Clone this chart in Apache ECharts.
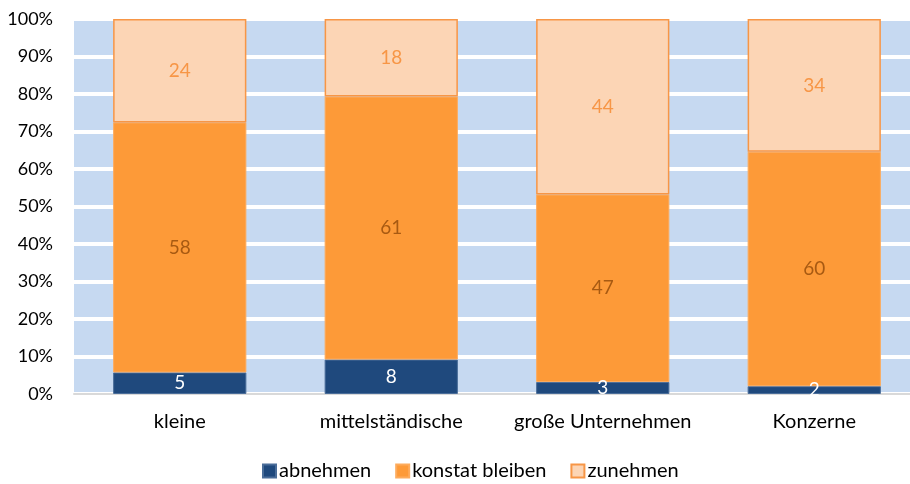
<!DOCTYPE html>
<html><head><meta charset="utf-8">
<script src="https://cdn.jsdelivr.net/npm/echarts@6/dist/echarts.min.js"></script>
<style>html,body{margin:0;padding:0;background:#fff}#c{width:910px;height:484px}</style>
</head><body><div id="c"></div>
<script>
const categories = ['kleine', 'mittelständische', 'große Unternehmen', 'Konzerne'];
const abnehmen = [5, 8, 3, 2];
const konstant = [58, 61, 47, 60];
const zunehmen = [24, 18, 44, 34];
const seriesNames = ['abnehmen', 'konstat bleiben', 'zunehmen'];
const yTicks = [0, 10, 20, 30, 40, 50, 60, 70, 80, 90, 100];

const raw = [abnehmen, konstant, zunehmen];
const totals = categories.map((_, i) => raw.reduce((s, a) => s + a[i], 0));
const pct = raw.map(a => a.map((v, i) => v / totals[i] * 100));

const font = 'Lato, "Open Sans", sans-serif';
const colors = ['#1f497d', '#fd9a38', '#fcd5b5'];
const borders = ['#4a6d99', '#fdab5c', '#f79646'];
const labelColors = ['#ffffff', '#a85a12', '#f79646'];

const chart = echarts.init(document.getElementById('c'));
chart.setOption({
  animation: false,
  textStyle: { fontFamily: font },
  grid: { left: 74, width: 846, top: 19, bottom: 90, show: true, backgroundColor: '#c6d9f1', borderWidth: 0,
    containLabel: false, outerBoundsMode: 'none' },
  legend: {
    top: 461, left: 262, padding: 0, itemWidth: 13, itemHeight: 13, itemGap: 24,
    icon: 'rect',
    textStyle: { fontFamily: font, fontSize: 20, color: '#000', padding: [0, 0, 0, -2] },
    data: seriesNames
  },
  xAxis: {
    type: 'category', data: categories,
    axisLine: { show: true, lineStyle: { color: '#d9d9d9', width: 2 } },
    axisTick: { show: false },
    axisLabel: { fontFamily: font, fontSize: 20, color: '#000', margin: 18, interval: 0, hideOverlap: false }
  },
  yAxis: {
    type: 'value', min: 0, max: 100, interval: 10,
    axisLine: { show: false }, axisTick: { show: false },
    splitLine: { show: true, lineStyle: { color: '#ffffff', width: 4 } },
    axisLabel: { fontFamily: font, fontSize: 18, color: '#000', margin: 21,
      formatter: v => yTicks.includes(v) ? v + '%' : '' }
  },
  series: seriesNames.map((name, k) => ({
    name, type: 'bar', stack: 'total', barWidth: '63%',
    data: pct[k].map((v, i) => ({ value: v, raw: raw[k][i] })),
    itemStyle: { color: colors[k], borderColor: borders[k], borderWidth: k === 2 ? 1.5 : 1 },
    label: { show: true, position: 'inside', fontFamily: font, fontSize: 19, color: labelColors[k],
      formatter: p => String(p.data.raw) }
  }))
});
</script></body></html>
